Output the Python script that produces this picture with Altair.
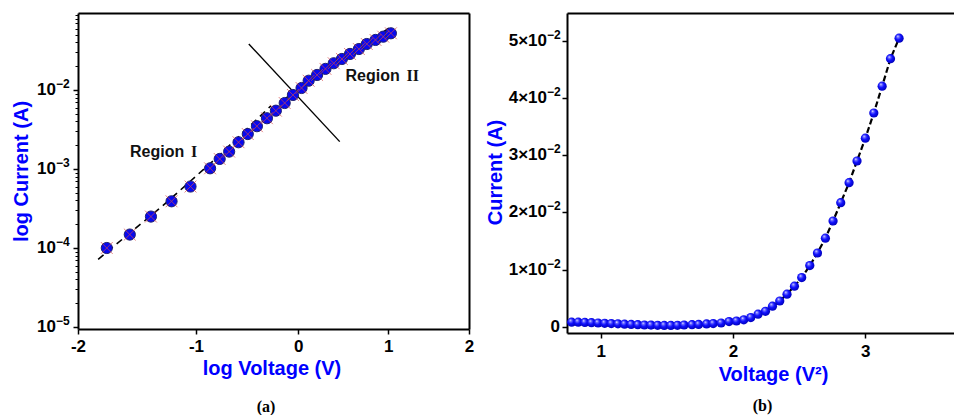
import altair as alt
import pandas as pd

# ---------------- Panel (a): log I vs log V ----------------
log_voltage = [-1.77, -1.58, -1.40, -1.22, -1.05, -0.87, -0.78, -0.69, -0.60,
               -0.51, -0.42, -0.32, -0.23, -0.14, -0.055, 0.035, 0.11, 0.20,
               0.29, 0.38, 0.47, 0.56, 0.66, 0.75, 0.85, 0.94, 1.03]
current_a = [1.0e-4, 1.48e-4, 2.5e-4, 3.9e-4, 6.0e-4, 1.02e-3, 1.34e-3, 1.66e-3,
             2.18e-3, 2.77e-3, 3.48e-3, 4.39e-3, 5.47e-3, 6.84e-3, 8.65e-3,
             1.06e-2, 1.31e-2, 1.55e-2, 1.85e-2, 2.18e-2, 2.47e-2, 2.86e-2,
             3.30e-2, 3.82e-2, 4.30e-2, 4.73e-2, 5.22e-2]

# dashed fits for the two conduction regions and the solid boundary line
fit1_logv = [-1.84, -1.30, -0.80, -0.28]
fit1_current = [7.2e-5, 3.4e-4, 1.42e-3, 6.3e-3]
fit2_logv = [-0.15, 0.30, 0.70, 1.045]
fit2_current = [7.6e-3, 1.71e-2, 3.51e-2, 6.52e-2]
boundary_logv = [-0.50, 0.446]
boundary_current = [3.82e-2, 2.22e-3]

region_logv = [-1.578, 0.510]
region_current = [1.64e-3, 1.50e-2]
region_word = ["Region", "Region"]
region_numeral = ["I", "II"]

x_ticks_a = [-2, -1, 0, 1, 2]
y_ticks_a = [1e-5, 1e-4, 1e-3, 1e-2]
y_exponents_a = ["−5", "−4", "−3", "−2"]
y_minor_a = [m * 10.0 ** e for e in (-5, -4, -3, -2) for m in range(2, 10)]

# ---------------- Panel (b): I vs V^2 ----------------
voltage_sq = [0.78, 0.83, 0.88, 0.93, 0.98, 1.03, 1.08, 1.13, 1.18, 1.23, 1.28,
              1.33, 1.38, 1.43, 1.48, 1.53, 1.58, 1.63, 1.69, 1.74, 1.80, 1.85,
              1.91, 1.97, 2.026, 2.081, 2.134, 2.189, 2.245, 2.298, 2.353, 2.408,
              2.464, 2.519, 2.58, 2.638, 2.698, 2.756, 2.814, 2.877, 2.937, 3.0,
              3.064, 3.127, 3.19, 3.255]
current_b = [0.0008, 0.0008, 0.00075, 0.0007, 0.00065, 0.0006, 0.00055, 0.0005,
             0.00045, 0.0004, 0.00035, 0.0003, 0.00028, 0.00025, 0.00023,
             0.00023, 0.00025, 0.0003, 0.00035, 0.0004, 0.00048, 0.00055,
             0.00065, 0.0009, 0.0010, 0.0012, 0.0016, 0.0022, 0.0027, 0.0036,
             0.0045, 0.0057, 0.0071, 0.0086, 0.0107, 0.0129, 0.0155, 0.0185,
             0.0217, 0.0252, 0.0290, 0.0330, 0.0374, 0.0421, 0.0469, 0.0505]
x_ticks_b = [1, 2, 3]
y_ticks_b = [0, 0.01, 0.02, 0.03, 0.04, 0.05]
y_mantissa_b = ["0", "1×10", "2×10", "3×10", "4×10", "5×10"]
y_exponent_b = ["", "−2", "−2", "−2", "−2", "−2"]

BLUE = "#0000ff"
SANS = "Liberation Sans"
SERIF = "Liberation Serif"

W_A, H_A = 391, 316
W_B, H_B = 387, 320

# ---------------- build panel (a) ----------------
pts_a = pd.DataFrame({"logv": log_voltage, "current": current_a})
fit1 = pd.DataFrame({"logv": fit1_logv, "current": fit1_current})
fit2 = pd.DataFrame({"logv": fit2_logv, "current": fit2_current})
bound = pd.DataFrame({"logv": boundary_logv, "current": boundary_current})
regions = pd.DataFrame({"logv": region_logv, "current": region_current,
                        "word": region_word, "numeral": region_numeral})
ylab_a = pd.DataFrame({"current": y_ticks_a, "base": ["10"] * len(y_ticks_a),
                       "exp": y_exponents_a})

xs_scale = alt.Scale(type="log", domain=[6, 10], nice=False)
ya_scale = alt.Scale(type="log", domain=[9.435e-6, 0.0943], nice=False)

x_major_a = alt.Axis(orient="bottom", values=[v + 8 for v in x_ticks_a],
                     labelExpr="'' + (datum.value - 8)", title="log Voltage (V)",
                     titleX=W_A / 2 - 2, titleY=39, titleBaseline="middle",
                     titleAlign="center", tickSize=5, labelPadding=4)
x_top_a = alt.Axis(orient="top", values=[], labels=False, ticks=False, title=None)
y_major_a = alt.Axis(orient="left", values=y_ticks_a, labels=False,
                     title="log Current (A)", titleX=-57, titleY=H_A / 2,
                     titleBaseline="middle", titleAlign="center", tickSize=5)
y_minor_axis = alt.Axis(orient="left", values=y_minor_a, labels=False, domain=False,
                        tickSize=3, tickWidth=1, title=None)
y_right_a = alt.Axis(orient="right", values=[], labels=False, ticks=False, title=None)


def xs_enc(axis):
    return alt.X("xs:Q", scale=xs_scale, axis=axis)


def ya_enc(axis):
    return alt.Y("current:Q", scale=ya_scale, axis=axis)


calc = {"xs": "datum.logv + 8"}

fit1_layer = alt.Chart(fit1).transform_calculate(**calc).mark_line(
    color="black", strokeWidth=1.6, strokeDash=[7, 5]
).encode(x=xs_enc(x_major_a), y=ya_enc(y_major_a))

fit2_layer = alt.Chart(fit2).transform_calculate(**calc).mark_line(
    color="black", strokeWidth=1.6, strokeDash=[7, 5]
).encode(x=xs_enc(x_top_a), y=ya_enc(y_right_a))

bound_layer = alt.Chart(bound).transform_calculate(**calc).mark_line(
    color="black", strokeWidth=1.4
).encode(x=xs_enc(None), y=ya_enc(y_minor_axis))

circ_layer = alt.Chart(pts_a).transform_calculate(**calc).mark_point(
    shape="circle", filled=True, size=125, fill="#0808f0", stroke="#202070",
    strokeWidth=1, opacity=1
).encode(x=xs_enc(None), y=ya_enc(None))

cross_layer = alt.Chart(pts_a).transform_calculate(**calc).mark_point(
    shape="M-1,-1L1,1M1,-1L-1,1", filled=False, size=140, stroke="#d84848",
    strokeWidth=0.8, opacity=0.85
).encode(x=xs_enc(None), y=ya_enc(None))

word_layer = alt.Chart(regions).transform_calculate(**calc).mark_text(
    align="left", baseline="middle", font=SANS, fontWeight="bold", fontSize=16,
    color="#111111"
).encode(x=xs_enc(None), y=ya_enc(None), text="word:N")

num_layer = alt.Chart(regions).transform_calculate(**calc).mark_text(
    align="left", baseline="middle", font=SERIF, fontWeight="bold", fontSize=16,
    color="#111111", dx=61
).encode(x=xs_enc(None), y=ya_enc(None), text="numeral:N")

# y tick labels as power-of-ten with a raised exponent
ybase_a = alt.Chart(ylab_a).mark_text(
    align="right", baseline="middle", font=SANS, fontWeight="bold", fontSize=17,
    color="black"
).encode(x=alt.value(-22), y=ya_enc(None), text="base:N")

yexp_a = alt.Chart(ylab_a).mark_text(
    align="left", baseline="middle", font=SANS, fontWeight="bold", fontSize=12,
    color="black", dy=-6
).encode(x=alt.value(-22), y=ya_enc(None), text="exp:N")

cap_a = alt.Chart(pd.DataFrame({"t": ["(a)"]})).mark_text(
    font=SERIF, fontWeight="bold", fontSize=16, baseline="middle", color="black"
).encode(x=alt.value(188), y=alt.value(393.5), text="t:N")

panel_a = alt.layer(
    fit1_layer, fit2_layer, bound_layer, circ_layer, cross_layer,
    word_layer, num_layer, ybase_a, yexp_a, cap_a
).resolve_axis(x="independent", y="independent").properties(width=W_A, height=H_A)

# ---------------- build panel (b) ----------------
pts_b = pd.DataFrame({"vsq": voltage_sq, "current": current_b})
ylab_b = pd.DataFrame({"current": y_ticks_b, "mant": y_mantissa_b,
                       "exp": y_exponent_b})

xb_scale = alt.Scale(domain=[0.745, 3.67], nice=False, zero=False)
yb_scale = alt.Scale(domain=[-0.0011, 0.0549], nice=False, zero=False)

x_major_b = alt.Axis(orient="bottom", values=x_ticks_b, format="d",
                     title="Voltage (V²)", titleX=206, titleY=41,
                     titleBaseline="middle", titleAlign="center",
                     tickSize=5, labelPadding=5)
x_top_b = alt.Axis(orient="top", values=[], labels=False, ticks=False, title=None)
y_major_b = alt.Axis(orient="left", values=y_ticks_b, labels=False,
                     title="Current (A)", titleX=-72, titleY=159,
                     titleBaseline="middle", titleAlign="center", tickSize=5)

sphere = alt.RadialGradient(
    gradient="radial",
    stops=[alt.GradientStop(offset=0, color="#ffffff"),
           alt.GradientStop(offset=0.2, color="#7070ff"),
           alt.GradientStop(offset=0.5, color="#1010ff"),
           alt.GradientStop(offset=1, color="#0000b0")],
    x1=0.36, y1=0.3, r1=0, x2=0.45, y2=0.45, r2=0.6,
)

line_b = alt.Chart(pts_b).mark_line(
    color="black", strokeWidth=2.2, strokeDash=[6, 3]
).encode(
    x=alt.X("vsq:Q", scale=xb_scale, axis=x_major_b),
    y=alt.Y("current:Q", scale=yb_scale, axis=y_major_b),
)

dots_b = alt.Chart(pts_b).mark_point(
    shape="circle", filled=True, size=85, fill=sphere, strokeWidth=0, opacity=1
).encode(
    x=alt.X("vsq:Q", scale=xb_scale, axis=x_top_b),
    y=alt.Y("current:Q", scale=yb_scale, axis=None),
)

yb_enc = alt.Y("current:Q", scale=yb_scale, axis=None)

ymant_b = alt.Chart(ylab_b).transform_filter("datum.current > 0").mark_text(
    align="right", baseline="middle", font=SANS, fontWeight="bold", fontSize=17,
    color="black"
).encode(x=alt.value(-20), y=yb_enc, text="mant:N")

yzero_b = alt.Chart(ylab_b).transform_filter("datum.current == 0").mark_text(
    align="right", baseline="middle", font=SANS, fontWeight="bold", fontSize=17,
    color="black"
).encode(x=alt.value(-7), y=yb_enc, text="mant:N")

yexp_b = alt.Chart(ylab_b).transform_filter("datum.current > 0").mark_text(
    align="left", baseline="middle", font=SANS, fontWeight="bold", fontSize=12,
    color="black", dy=-6
).encode(x=alt.value(-20), y=yb_enc, text="exp:N")

cap_b = alt.Chart(pd.DataFrame({"t": ["(b)"]})).mark_text(
    font=SERIF, fontWeight="bold", fontSize=16, baseline="middle", color="black"
).encode(x=alt.value(195.5), y=alt.value(393), text="t:N")

panel_b = alt.layer(line_b, dots_b, ymant_b, yzero_b, yexp_b, cap_b).resolve_axis(
    x="independent", y="independent"
).properties(width=W_B, height=H_B)

chart = alt.hconcat(panel_a, panel_b, spacing=98, bounds="flush").properties(
    padding={"left": 11, "top": 13, "right": 0, "bottom": 0},
    background="white",
).configure_view(
    stroke=None
).configure_axis(
    grid=False,
    domainColor="black",
    domainWidth=2,
    tickColor="black",
    tickWidth=1.5,
    labelFont=SANS,
    labelFontWeight="bold",
    labelFontSize=17,
    labelColor="black",
    labelOverlap=False,
    labelFlush=False,
    titleFont=SANS,
    titleFontWeight="bold",
    titleFontSize=20,
    titleColor=BLUE,
)

chart.save("out.html", embed_options={"renderer": "svg", "actions": False})
